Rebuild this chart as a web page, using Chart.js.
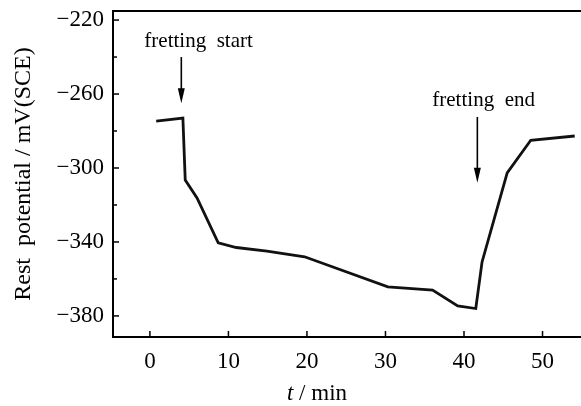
<!DOCTYPE html>
<html lang="en">
<head>
    <meta charset="UTF-8">
    <title>Rest potential vs time</title>
    <script src="https://cdn.jsdelivr.net/npm/chart.js"></script>
    <style>
        body {
            margin: 0;
            background: #fff;
        }
        #wrap {
            width: 581px;
            height: 406px;
        }
    </style>
</head>
<body>
    <div id="wrap">
        <canvas id="potChart" width="581" height="406"></canvas>
    </div>
<script>
    // data
    const timeMin = [0.8, 4.2, 4.5, 6.0, 8.7, 11.0, 14.9, 19.7, 30.3, 36.0, 39.2, 41.5, 42.3, 45.5, 48.5, 54.1];
    const restPotential = [-274.6, -273.0, -306.5, -316.2, -340.5, -343.0, -345.0, -348.0, -364.3, -366.0, -374.6, -376.0, -350.8, -302.7, -285.0, -282.7];

    const xTicks = [0, 10, 20, 30, 40, 50];
    const yTicks = [-380, -340, -300, -260, -220];
    const yMinorTicks = [-360, -320, -280, -240];

    // annotations: label, x, label y, arrow top y, arrow tip y
    const noteLabels = ['fretting  start', 'fretting  end'];
    const noteX = [4.0, 41.7];
    const noteLabelX = [6.2, 42.5];
    const noteLabelY = [-231.5, -263.5];
    const arrowFrom = [-240, -272.4];
    const arrowTo = [-265, -308];

    const serif = '"Liberation Serif", "DejaVu Serif", serif';

    // inward ticks, top frame line, arrows, notes and x title
    const decorations = {
        id: 'decorations',
        afterDraw(chart) {
            const ctx = chart.ctx;
            const area = chart.chartArea;
            const xs = chart.scales.x;
            const ys = chart.scales.y;
            ctx.save();
            ctx.strokeStyle = '#000';
            ctx.fillStyle = '#000';

            // top frame
            ctx.lineWidth = 2;
            ctx.beginPath();
            ctx.moveTo(area.left, area.top);
            ctx.lineTo(area.right, area.top);
            ctx.stroke();

            ctx.lineWidth = 1.5;
            xTicks.forEach(v => {
                const px = xs.getPixelForValue(v);
                ctx.beginPath();
                ctx.moveTo(px, area.bottom);
                ctx.lineTo(px, area.bottom - 6);
                ctx.stroke();
            });
            yTicks.forEach(v => {
                const py = ys.getPixelForValue(v);
                ctx.beginPath();
                ctx.moveTo(area.left, py);
                ctx.lineTo(area.left + 6, py);
                ctx.stroke();
            });
            yMinorTicks.forEach(v => {
                const py = ys.getPixelForValue(v);
                ctx.beginPath();
                ctx.moveTo(area.left, py);
                ctx.lineTo(area.left + 4, py);
                ctx.stroke();
            });

            // arrows
            noteX.forEach((v, i) => {
                const px = xs.getPixelForValue(v);
                const y1 = ys.getPixelForValue(arrowFrom[i]);
                const y2 = ys.getPixelForValue(arrowTo[i]);
                ctx.lineWidth = 1.6;
                ctx.beginPath();
                ctx.moveTo(px, y1);
                ctx.lineTo(px, y2 - 12);
                ctx.stroke();
                ctx.beginPath();
                ctx.moveTo(px - 3.5, y2 - 15);
                ctx.lineTo(px + 3.5, y2 - 15);
                ctx.lineTo(px, y2);
                ctx.closePath();
                ctx.fill();
            });

            // notes
            ctx.font = '21px ' + serif;
            ctx.textAlign = 'center';
            ctx.textBaseline = 'middle';
            noteLabels.forEach((t, i) => {
                ctx.fillText(t, xs.getPixelForValue(noteLabelX[i]), ys.getPixelForValue(noteLabelY[i]));
            });

            // x title with italic t
            const cx = 317;
            const ty = 394;
            ctx.textAlign = 'left';
            ctx.font = 'italic 23px ' + serif;
            const w1 = ctx.measureText('t').width;
            ctx.font = '23px ' + serif;
            const w2 = ctx.measureText(' / min').width;
            let x0 = cx - (w1 + w2) / 2;
            ctx.font = 'italic 23px ' + serif;
            ctx.fillText('t', x0, ty);
            ctx.font = '23px ' + serif;
            ctx.fillText(' / min', x0 + w1, ty);
            ctx.restore();
        }
    };

    const ctx = document.getElementById('potChart').getContext('2d');
    const potChart = new Chart(ctx, {
        type: 'scatter',
        data: {
            datasets: [{
                label: 'Rest potential',
                data: timeMin.map((t, i) => ({ x: t, y: restPotential[i] })),
                showLine: true,
                borderColor: '#111',
                borderWidth: 2.8,
                pointRadius: 0,
                tension: 0,
                fill: false
            }]
        },
        options: {
            responsive: false,
            animation: false,
            layout: { padding: { top: 11, right: 0, left: 0, bottom: 0 } },
            plugins: {
                legend: { display: false },
                tooltip: { enabled: false }
            },
            scales: {
                x: {
                    type: 'linear',
                    min: -4.7,
                    max: 54.9,
                    afterBuildTicks: s => { s.ticks = xTicks.map(v => ({ value: v })); },
                    afterFit: s => { s.height = 69; s.paddingLeft = 0; s.paddingRight = 0; },
                    grid: { display: false, drawTicks: false },
                    border: { display: true, color: '#000', width: 2 },
                    ticks: {
                        color: '#000',
                        padding: 11,
                        font: { family: serif, size: 23 },
                        callback: v => String(v)
                    }
                },
                y: {
                    type: 'linear',
                    min: -391.4,
                    max: -215.1,
                    afterBuildTicks: s => { s.ticks = yTicks.map(v => ({ value: v })); },
                    afterFit: s => { s.width = 113; s.paddingTop = 0; s.paddingBottom = 0; },
                    grid: { display: false, drawTicks: false },
                    border: { display: true, color: '#000', width: 2 },
                    ticks: {
                        color: '#000',
                        padding: 9,
                        font: { family: serif, size: 23 },
                        callback: v => '\u2212' + Math.abs(v)
                    },
                    title: {
                        display: true,
                        text: 'Rest  potential / mV(SCE)',
                        color: '#000',
                        font: { family: serif, size: 24 },
                        padding: { top: 9, bottom: 0 }
                    }
                }
            }
        },
        plugins: [decorations]
    });
</script>
</body>
</html>
